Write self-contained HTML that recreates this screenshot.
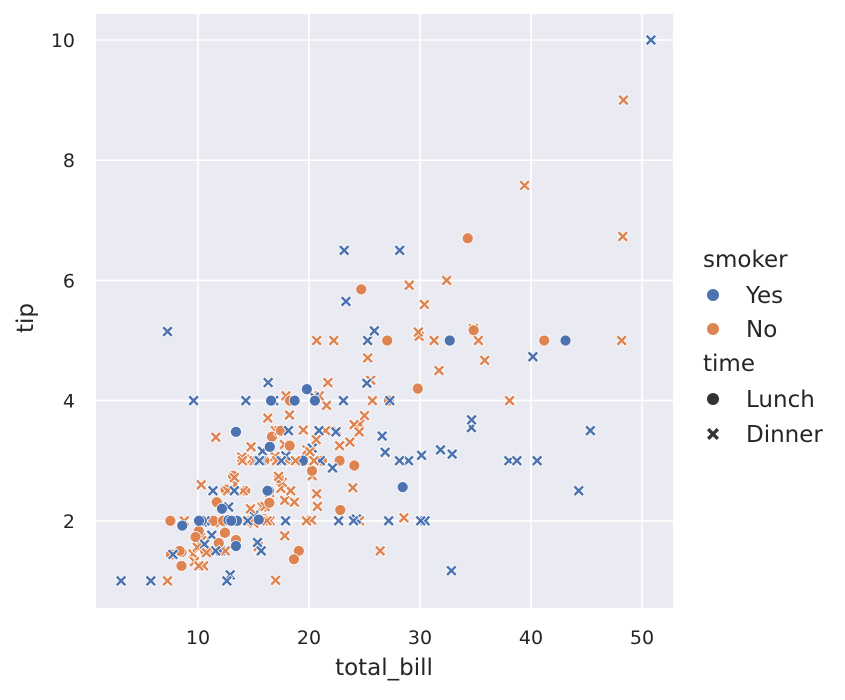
<!DOCTYPE html>
<html><head><meta charset="utf-8">
<style>
html,body{margin:0;padding:0;background:#fff;}
svg text{font-family:"DejaVu Sans","Liberation Sans",sans-serif;fill:#262626;}
</style></head>
<body>
<svg id="chart" width="845" height="695" xmlns="http://www.w3.org/2000/svg">
<rect x="96" y="14" width="577" height="594" fill="#eaeaf2"/>
<g id="grid"></g>
<g id="ticks"></g>
<g id="points"></g>
<text x="384" y="675" font-size="23" text-anchor="middle">total_bill</text>
<text x="0" y="0" font-size="23" text-anchor="middle" transform="translate(33,318) rotate(-90)">tip</text>
<g id="legend">
<text x="703" y="267" font-size="23">smoker</text>
<circle cx="713" cy="295" r="6" fill="#4c72b0"/>
<text x="746" y="303" font-size="23">Yes</text>
<circle cx="713" cy="329" r="6" fill="#dd8452"/>
<text x="746" y="337" font-size="23">No</text>
<text x="703" y="371" font-size="23">time</text>
<circle cx="713" cy="399" r="6" fill="#333"/>
<text x="746" y="407" font-size="23">Lunch</text>
<path transform="translate(713,434) scale(1.2)" d="M-5,-3 L-3,-5 L0,-2 L3,-5 L5,-3 L2,0 L5,3 L3,5 L0,2 L-3,5 L-5,3 L-2,0 Z" fill="#333"/>
<text x="746" y="442" font-size="23">Dinner</text>
</g>
</svg>
<script>
const xTicks=[10,20,30,40,50];
const yTicks=[2,4,6,8,10];
const rows=`16.99 1.01 N D|10.34 1.66 N D|21.01 3.5 N D|23.68 3.31 N D|24.59 3.61 N D|25.29 4.71 N D|8.77 2.0 N D|26.88 3.12 N D|15.04 1.96 N D|14.78 3.23 N D|10.27 1.71 N D|35.26 5.0 N D|15.42 1.57 N D|18.43 3.0 N D|14.83 3.02 N D|21.58 3.92 N D|10.33 1.67 N D|16.29 3.71 N D|16.97 3.5 N D|20.65 3.35 N D|17.92 4.08 N D|20.29 2.75 N D|15.77 2.23 N D|39.42 7.58 N D|19.82 3.18 N D|17.81 2.34 N D|13.37 2.0 N D|12.69 2.0 N D|21.7 4.3 N D|19.65 3.0 N D|9.55 1.45 N D|18.35 2.5 N D|15.06 3.0 N D|20.69 2.45 N D|17.78 3.27 N D|24.06 3.6 N D|16.31 2.0 N D|16.93 3.07 N D|18.69 2.31 N D|31.27 5.0 N D|16.04 2.24 N D|17.46 2.54 N D|13.94 3.06 N D|9.68 1.32 N D|30.4 5.6 N D|18.29 3.0 N D|22.23 5.0 N D|32.4 6.0 N D|28.55 2.05 N D|18.04 3.0 N D|12.54 2.5 N D|10.29 2.6 N D|34.81 5.2 N D|9.94 1.56 N D|25.56 4.34 N D|19.49 3.51 N D|38.01 3.0 Y D|26.41 1.5 N D|11.24 1.76 Y D|48.27 6.73 N D|20.29 3.21 Y D|13.81 2.0 Y D|11.02 1.98 Y D|18.29 3.76 Y D|17.59 2.64 N D|20.08 3.15 N D|16.45 2.47 N D|3.07 1.0 Y D|20.23 2.01 N D|15.01 2.09 Y D|12.02 1.97 N D|17.07 3.0 N D|26.86 3.14 Y D|25.28 5.0 Y D|14.73 2.2 N D|10.51 1.25 N D|17.92 3.08 Y D|27.2 4.0 N L|22.76 3.0 N L|17.29 2.71 N L|19.44 3.0 Y L|16.66 3.4 N L|10.07 1.83 N L|32.68 5.0 Y L|15.98 2.03 N L|34.83 5.17 N L|13.03 2.0 N L|18.28 4.0 N L|24.71 5.85 N L|21.16 3.0 N L|28.97 3.0 Y D|22.49 3.5 N D|5.75 1.0 Y D|16.32 4.3 Y D|22.75 3.25 N D|40.17 4.73 Y D|27.28 4.0 Y D|12.03 1.5 Y D|21.01 3.0 Y D|12.46 1.5 N D|11.35 2.5 Y D|15.38 3.0 Y D|44.3 2.5 Y D|22.42 3.48 Y D|20.92 4.08 N D|15.36 1.64 Y D|20.49 4.06 Y D|25.21 4.29 Y D|18.24 3.76 N D|14.31 4.0 Y D|14.0 3.0 N D|7.25 1.0 N D|38.07 4.0 N D|23.95 2.55 N D|25.71 4.0 N D|17.31 3.5 N D|29.93 5.07 N D|10.65 1.5 N L|12.43 1.8 N L|24.08 2.92 N L|11.69 2.31 N L|13.42 1.68 N L|14.26 2.5 N L|15.95 2.0 N L|12.48 2.52 N L|29.8 4.2 N L|8.52 1.48 N L|14.52 2.0 N L|11.38 2.0 N L|22.82 2.18 N L|19.08 1.5 N L|20.27 2.83 N L|11.17 1.5 N L|12.26 2.0 N L|18.26 3.25 N L|8.51 1.25 N L|10.33 2.0 N L|14.15 2.0 N L|16.0 2.0 Y L|13.16 2.75 N L|17.47 3.5 N L|34.3 6.7 N L|41.19 5.0 N L|27.05 5.0 N L|16.43 2.3 N L|8.35 1.5 N L|18.64 1.36 N L|11.87 1.63 N L|9.78 1.73 N L|7.51 2.0 N L|14.07 2.5 N D|13.13 2.0 N D|17.26 2.74 N D|24.55 2.0 N D|19.77 2.0 N D|29.85 5.14 N D|48.17 5.0 N D|25.0 3.75 N D|13.39 2.61 N D|16.49 2.0 N D|21.5 3.5 N D|12.66 2.5 N D|16.21 2.0 N D|13.81 2.0 N D|17.51 3.0 Y D|24.52 3.48 N D|20.76 2.24 N D|31.71 4.5 N D|10.59 1.61 Y D|10.63 2.0 Y D|50.81 10.0 Y D|15.81 3.16 Y D|7.25 5.15 Y D|31.85 3.18 Y D|16.82 4.0 Y D|32.9 3.11 Y D|17.89 2.0 Y D|14.48 2.0 Y D|9.6 4.0 Y D|34.63 3.55 Y D|34.65 3.68 Y D|23.33 5.65 Y D|45.35 3.5 Y D|23.17 6.5 Y D|40.55 3.0 Y D|20.69 5.0 N D|20.9 3.5 Y D|30.46 2.0 Y D|18.15 3.5 Y D|23.1 4.0 Y D|15.69 1.5 Y D|19.81 4.19 Y L|28.44 2.56 Y L|15.48 2.02 Y L|16.58 4.0 Y L|7.56 1.44 N L|10.34 2.0 Y L|43.11 5.0 Y L|13.0 2.0 Y L|13.51 2.0 Y L|18.71 4.0 Y L|12.74 2.01 Y L|13.0 2.0 Y L|16.4 2.5 Y L|20.53 4.0 Y L|16.47 3.23 Y L|26.59 3.41 Y D|38.73 3.0 Y D|24.27 2.03 Y D|12.76 2.23 Y D|30.06 2.0 Y D|25.89 5.16 Y D|48.33 9.0 N D|13.27 2.5 Y D|28.17 6.5 Y D|12.9 1.1 Y D|28.15 3.0 Y D|11.59 1.5 Y D|7.74 1.44 Y D|30.14 3.09 Y D|12.16 2.2 Y L|13.42 3.48 Y L|8.58 1.92 Y L|15.98 3.0 N L|13.42 1.58 Y L|16.27 2.5 Y L|10.09 2.0 Y L|20.45 3.0 N D|13.28 2.72 N D|22.12 2.88 Y D|24.01 2.0 Y D|15.69 3.0 Y D|11.61 3.39 N D|10.77 1.47 N D|15.53 3.0 Y D|10.07 1.25 N D|12.6 1.0 Y D|32.83 1.17 Y D|35.83 4.67 N D|29.03 5.92 N D|27.18 2.0 Y D|22.67 2.0 Y D|17.82 1.75 N D|18.78 3.0 N D`.split('|').map(r=>r.split(' '));
const bills=rows.map(r=>+r[0]);
const tips=rows.map(r=>+r[1]);
const smoker=rows.map(r=>r[2]);
const times=rows.map(r=>r[3]);
const NS="http://www.w3.org/2000/svg";
const X0=96,X1=673,Y0=14,Y1=608;
const xs=v=>87+v*11.1;
const ys=v=>641-v*60.1;
const grid=document.getElementById('grid'),tk=document.getElementById('ticks'),pts=document.getElementById('points');
xTicks.forEach(t=>{
 const l=document.createElementNS(NS,'line');
 
 
 l.setAttribute('x1',xs(t));l.setAttribute('x2',xs(t));l.setAttribute('y1',Y0);l.setAttribute('y2',Y1);
 l.setAttribute('stroke','#fff');l.setAttribute('stroke-width','1.6');grid.appendChild(l);
 const s=document.createElementNS(NS,'text');
 
 
 s.setAttribute('x',xs(t));s.setAttribute('y',644);s.setAttribute('font-size','19');s.setAttribute('text-anchor','middle');
 s.textContent=t;tk.appendChild(s);
});
yTicks.forEach(t=>{
 const l=document.createElementNS(NS,'line');
 
 
 l.setAttribute('x1',X0);l.setAttribute('x2',X1);l.setAttribute('y1',ys(t));l.setAttribute('y2',ys(t));
 l.setAttribute('stroke','#fff');l.setAttribute('stroke-width','1.6');grid.appendChild(l);
 const s=document.createElementNS(NS,'text');
 
 
 s.setAttribute('x',75);s.setAttribute('y',ys(t)+7);s.setAttribute('font-size','19');s.setAttribute('text-anchor','end');
 s.textContent=t;tk.appendChild(s);
});
bills.forEach((b,i)=>{
 const c=smoker[i]==='Y'?'#4c72b0':'#dd8452';
 const cx=xs(b),cy=ys(tips[i]);
 let el;
 if(times[i]==='L'){
  el=document.createElementNS(NS,'circle');
  el.setAttribute('cx',cx);el.setAttribute('cy',cy);el.setAttribute('r',5.5);
 } else {
  el=document.createElementNS(NS,'path');
  el.setAttribute('d','M-5,-3 L-3,-5 L0,-2 L3,-5 L5,-3 L2,0 L5,3 L3,5 L0,2 L-3,5 L-5,3 L-2,0 Z');
  el.setAttribute('transform','translate('+cx+','+cy+') scale(1.15)');
 }
 
 
 el.setAttribute('fill',c);el.setAttribute('stroke','#fff');el.setAttribute('stroke-width','0.7');
 pts.appendChild(el);
});
</script>
</body></html>
